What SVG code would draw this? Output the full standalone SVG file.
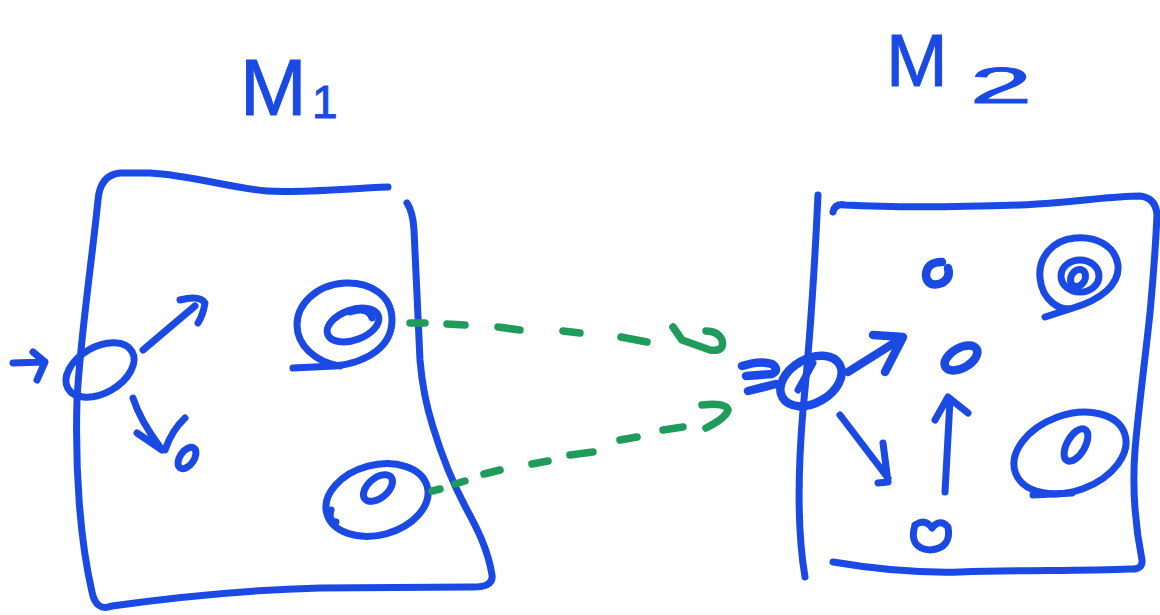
<svg xmlns="http://www.w3.org/2000/svg" width="1160" height="615" viewBox="0 0 1160 615">
<defs>
<style>
.b{fill:none;stroke:#1a4ae3;stroke-width:7;stroke-linecap:round;stroke-linejoin:round}
.bt{stroke-width:8.5}
.g{fill:none;stroke:#1f9c5c;stroke-width:7.5;stroke-linecap:round;stroke-linejoin:round}
.lbl{font-family:"Liberation Sans",Arial,sans-serif;fill:#1a4ae3;stroke:#1a4ae3;stroke-width:1}
</style>
</defs>
<rect width="1160" height="615" fill="#ffffff"/>

<g id="label-m1">
<text class="lbl" x="240" y="115" font-size="80">M</text>
<text class="lbl" x="312" y="118" font-size="46">1</text>
</g>
<g id="label-m2">
<text class="lbl" x="886" y="86" font-size="74">M</text>
<text class="lbl" x="970" y="103" font-size="50" textLength="62" lengthAdjust="spacingAndGlyphs">2</text>
</g>

<g id="m1-box">
<path class="b" d="M388,187 C340,189 300,193 267,191 C230,188 190,175 150,173 L120,173 Q100,175 98,200 C92,260 80,340 77,400 C75,470 80,540 92,592 Q96,612 112,606 C170,598 240,590 320,588 L470,587 Q494,588 492,575 C488,550 478,530 466,508 C450,478 440,450 433,427 C426,405 422,385 420,360 L414,230 Q413,212 407,203"/>
</g>

<g id="m1-entry">
<ellipse class="b" cx="100" cy="370" rx="37" ry="23" transform="rotate(-30 100 370)"/>
</g>
<g id="m1-small">
<ellipse class="b" cx="187" cy="458" rx="12" ry="7" transform="rotate(-55 187 458)"/>
</g>
<g id="m1-top">
<path class="b" d="M293,368 L335,366 C370,362 392,345 392,320 C392,295 370,282 345,283 C315,285 297,305 297,325 C297,345 315,362 340,366"/>
<ellipse class="b" cx="353" cy="325" rx="27" ry="15" transform="rotate(-20 353 325)"/>
<path class="b" d="M350,312 Q368,306 372,318"/>
</g>
<g id="m1-bottom">
<ellipse class="b" cx="377" cy="500" rx="52" ry="35" transform="rotate(-15 377 500)"/>
<ellipse class="b" cx="378" cy="488" rx="17" ry="10" transform="rotate(-40 378 488)"/>
<path class="b" d="M331,510 Q328,521 336,522"/>
</g>

<g id="m2-box">
<path class="b" d="M818,195 C815,260 810,340 803,410 C798,470 797,530 805,577"/>
<path class="b" d="M833,212 Q835,203 845,205 C900,208 960,207 1020,205 C1070,203 1110,196 1140,196 Q1156,198 1157,215 C1155,260 1152,290 1150,313 C1145,360 1138,413 1135,450 C1132,490 1136,530 1142,560 Q1143,570 1130,569 C1080,571 1020,570 960,572 C920,573 880,570 833,562"/>
</g>
<g id="m2-entry">
<ellipse class="b bt" cx="811" cy="381" rx="33" ry="22" transform="rotate(-30 811 381)"/>
<path class="b" d="M813,363 L798,390"/>
</g>
<g id="m2-top-small">
<path class="b bt" d="M942,262 Q926,262 926,276 Q928,288 942,283 Q951,278 948,268"/>
</g>
<g id="m2-center">
<ellipse class="b bt" cx="961" cy="358" rx="18" ry="10" transform="rotate(-30 961 358)"/>
</g>
<g id="m2-bottom-small">
<path class="b" d="M915,525 Q908,548 930,550 Q952,548 948,527 Q940,518 932,528 Q925,518 915,525"/>
</g>
<g id="m2-top-right">
<path class="b" d="M1045,317 L1073,308 C1100,300 1120,285 1118,265 C1115,245 1095,236 1075,238 C1052,240 1038,258 1040,278 C1042,300 1060,312 1073,308"/>
<ellipse class="b" cx="1080" cy="276" rx="19" ry="16"/>
<ellipse class="b" cx="1078" cy="278" rx="7" ry="9" transform="rotate(30 1078 278)"/>
</g>
<g id="m2-bottom-right">
<ellipse class="b" cx="1070" cy="453" rx="58" ry="38" transform="rotate(-20 1070 453)"/>
<ellipse class="b" cx="1076" cy="445" rx="9" ry="18" transform="rotate(30 1076 445)"/>
<path class="b" d="M1033,495 L1072,493"/>
</g>

<g id="connectors">
<path class="b" d="M13,363 L45,362 M33,352 L45,362 L37,380"/>
<path class="b" d="M143,350 L195,306 M180,300 Q200,295 205,303 Q203,315 198,323"/>
<path class="b" d="M133,398 Q140,420 160,447 M137,433 L162,450 M185,418 Q172,430 165,450"/>
<path class="b bt" d="M742,366 Q760,360 772,364 Q780,370 772,374 L746,376 M748,391 L776,384"/>
<path class="b bt" d="M848,372 L902,338 M873,335 L903,337 L885,372"/>
<path class="b" d="M840,415 L888,478 M883,443 L888,482 L878,483"/>
<path class="b" d="M945,492 L950,400 M935,420 L948,397 L968,413"/>
<path class="g" d="M410,323 L425,323 M447,324 L465,325 M498,327 L520,330 M563,331 L580,333 M621,337 L647,342 M673,327 L682,340 L710,350 Q725,352 722,340 Q718,331 706,331"/>
<path class="g" d="M432,491 L440,489 M455,484 L465,481 M484,474 L500,470 M532,464 L548,461 M570,455 L593,452 M620,440 L637,437 M663,430 L683,427 M702,405 Q726,402 728,410 Q726,418 706,428"/>
</g>
</svg>
